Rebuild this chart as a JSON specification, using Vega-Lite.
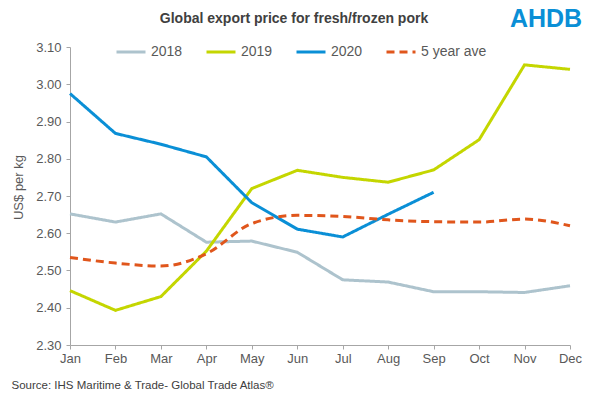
{
  "$schema": "https://vega.github.io/schema/vega-lite/v6.json",
  "width": 500,
  "height": 298,
  "autosize": {"type": "none"},
  "padding": {"left": 70, "top": 47, "right": 39, "bottom": 53},
  "background": "white",
  "config": {
    "font": "Liberation Sans",
    "view": {"stroke": null},
    "legend": {
      "orient": "none",
      "legendX": 45,
      "legendY": -11,
      "direction": "horizontal",
      "symbolType": "stroke",
      "symbolStrokeWidth": 3,
      "symbolSize": 841,
      "labelFontSize": 14,
      "labelColor": "#595959",
      "labelOffset": 4,
      "columnPadding": 17,
      "padding": 0,
      "title": null
    }
  },
  "title": {
    "text": "Global export price for fresh/frozen pork",
    "anchor": "middle",
    "dx": -26,
    "offset": -19,
    "fontSize": 14,
    "fontWeight": "bold",
    "color": "#404040"
  },
  "datasets": {
    "prices": [
      {"month": "Jan", "series": "2018", "price": 2.652},
      {"month": "Feb", "series": "2018", "price": 2.63},
      {"month": "Mar", "series": "2018", "price": 2.652},
      {"month": "Apr", "series": "2018", "price": 2.576},
      {"month": "May", "series": "2018", "price": 2.579},
      {"month": "Jun", "series": "2018", "price": 2.549},
      {"month": "Jul", "series": "2018", "price": 2.475},
      {"month": "Aug", "series": "2018", "price": 2.469},
      {"month": "Sep", "series": "2018", "price": 2.443},
      {"month": "Oct", "series": "2018", "price": 2.443},
      {"month": "Nov", "series": "2018", "price": 2.441},
      {"month": "Dec", "series": "2018", "price": 2.459},
      {"month": "Jan", "series": "2019", "price": 2.446},
      {"month": "Feb", "series": "2019", "price": 2.393},
      {"month": "Mar", "series": "2019", "price": 2.43},
      {"month": "Apr", "series": "2019", "price": 2.552},
      {"month": "May", "series": "2019", "price": 2.72},
      {"month": "Jun", "series": "2019", "price": 2.769},
      {"month": "Jul", "series": "2019", "price": 2.75},
      {"month": "Aug", "series": "2019", "price": 2.737},
      {"month": "Sep", "series": "2019", "price": 2.77},
      {"month": "Oct", "series": "2019", "price": 2.851},
      {"month": "Nov", "series": "2019", "price": 3.052},
      {"month": "Dec", "series": "2019", "price": 3.04},
      {"month": "Jan", "series": "2020", "price": 2.975},
      {"month": "Feb", "series": "2020", "price": 2.868},
      {"month": "Mar", "series": "2020", "price": 2.839},
      {"month": "Apr", "series": "2020", "price": 2.805},
      {"month": "May", "series": "2020", "price": 2.682},
      {"month": "Jun", "series": "2020", "price": 2.611},
      {"month": "Jul", "series": "2020", "price": 2.59},
      {"month": "Aug", "series": "2020", "price": 2.651},
      {"month": "Sep", "series": "2020", "price": 2.71},
      {"month": "Jan", "series": "5 year ave", "price": 2.535},
      {"month": "Feb", "series": "5 year ave", "price": 2.52},
      {"month": "Mar", "series": "5 year ave", "price": 2.512},
      {"month": "Apr", "series": "5 year ave", "price": 2.545},
      {"month": "May", "series": "5 year ave", "price": 2.626},
      {"month": "Jun", "series": "5 year ave", "price": 2.648},
      {"month": "Jul", "series": "5 year ave", "price": 2.645},
      {"month": "Aug", "series": "5 year ave", "price": 2.636},
      {"month": "Sep", "series": "5 year ave", "price": 2.631},
      {"month": "Oct", "series": "5 year ave", "price": 2.63},
      {"month": "Nov", "series": "5 year ave", "price": 2.638},
      {"month": "Dec", "series": "5 year ave", "price": 2.62}
    ],
    "logo": [
      {"month": "Dec", "price": 3.1, "label": "AHDB"}
    ]
  },
  "encoding": {
    "x": {
      "field": "month",
      "type": "ordinal",
      "sort": ["Jan", "Feb", "Mar", "Apr", "May", "Jun", "Jul", "Aug", "Sep", "Oct", "Nov", "Dec"],
      "scale": {"type": "point", "padding": 0},
      "axis": {
        "title": "Source: IHS Maritime & Trade- Global Trade Atlas®",
        "titleX": -59,
        "titleY": 40,
        "titleAlign": "left",
        "titleAnchor": null,
        "titleBaseline": "middle",
        "titleFontSize": 11.5,
        "titleFontWeight": "normal",
        "titleColor": "#404040",
        "labelAngle": 0,
        "labelFontSize": 13,
        "labelColor": "#595959",
        "labelPadding": 3,
        "tickSize": 4,
        "tickColor": "#a6a6a6",
        "domainColor": "#a6a6a6",
        "grid": false
      }
    },
    "y": {
      "field": "price",
      "type": "quantitative",
      "scale": {"domain": [2.3, 3.1], "nice": false, "zero": false},
      "axis": {
        "values": [2.3, 2.4, 2.5, 2.6, 2.7, 2.8, 2.9, 3.0, 3.1],
        "format": ".2f",
        "title": "US$ per kg",
        "titleX": -52,
        "titleY": 140,
        "titleAngle": 270,
        "titleAlign": "center",
        "titleBaseline": "middle",
        "titleFontSize": 13,
        "titleFontWeight": "normal",
        "titleColor": "#595959",
        "labelFontSize": 13,
        "labelColor": "#595959",
        "labelPadding": 5,
        "tickSize": 4,
        "tickColor": "#a6a6a6",
        "domainColor": "#a6a6a6",
        "grid": false
      }
    }
  },
  "layer": [
    {
      "data": {"name": "prices"},
      "encoding": {
        "color": {
          "field": "series",
          "type": "nominal",
          "scale": {"domain": ["2018", "2019", "2020", "5 year ave"], "range": ["#adc3cd", "#c4d600", "#0a8fd6", "#e0561c"]}
        },
        "strokeDash": {
          "field": "series",
          "type": "nominal",
          "scale": {"domain": ["2018", "2019", "2020", "5 year ave"], "range": [[1, 0], [1, 0], [1, 0], [8, 5]]}
        }
      },
      "layer": [
        {
          "transform": [{"filter": "datum.series !== '5 year ave'"}],
          "mark": {"type": "line", "strokeWidth": 3}
        },
        {
          "transform": [{"filter": "datum.series === '5 year ave'"}],
          "mark": {"type": "line", "strokeWidth": 3, "interpolate": "monotone"}
        }
      ]
    },
    {
      "data": {"name": "logo"},
      "mark": {"type": "text", "fontSize": 25, "fontWeight": "bold", "fill": "#0a8fd6", "align": "center", "baseline": "middle", "dx": -24, "dy": -28},
      "encoding": {
        "text": {"field": "label", "type": "nominal"}
      }
    }
  ]
}
